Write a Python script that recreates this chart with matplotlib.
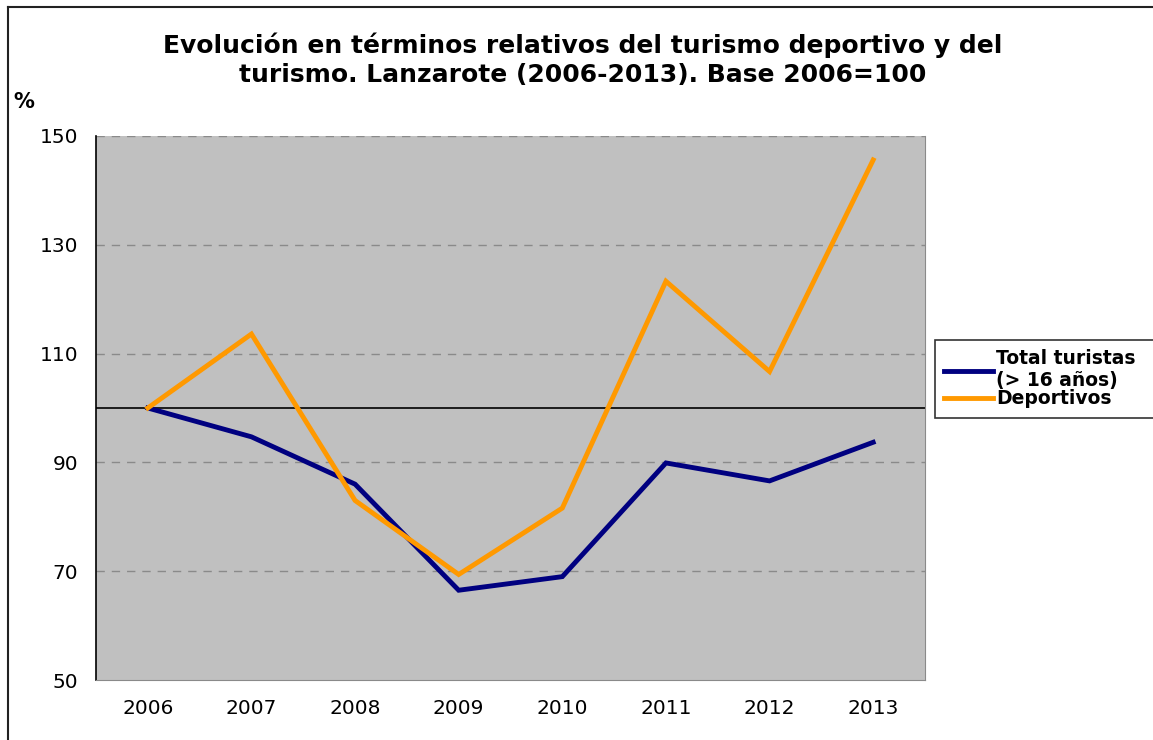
import matplotlib.pyplot as plt
from matplotlib.lines import Line2D

# Data
years = ['2006', '2007', '2008', '2009', '2010', '2011', '2012', '2013']
total_turistas = [100, 94.7, 86.0, 66.5, 69.0, 89.9, 86.6, 93.7]
deportivos = [100, 113.6, 83.0, 69.4, 81.6, 123.3, 106.7, 145.6]

fig = plt.figure(figsize=(11.53, 7.4), dpi=100)
ax = fig.add_axes([96 / 1153, 1 - 680 / 740, 829 / 1153, 544 / 740])
ax.set_facecolor('#C0C0C0')

x = range(len(years))
ax.plot(x, total_turistas, color='#000080', lw=3.5, solid_joinstyle='miter',
        label='Total turistas\n(> 16 años)', zorder=3)
ax.plot(x, deportivos, color='#FF9900', lw=3.5, solid_joinstyle='miter',
        label='Deportivos', zorder=3)

ax.set_xlim(-0.5, len(years) - 0.5)
ax.set_ylim(50, 150)
ax.set_yticks([50, 70, 90, 110, 130, 150])
ax.set_xticks(list(x))
ax.set_xticklabels(years)
ax.tick_params(axis='both', length=0, labelsize=14.5)
ax.tick_params(axis='x', pad=14)
ax.tick_params(axis='y', pad=13)

for v in [70, 90, 110, 130, 150]:
    ax.axhline(v, color='#8a8a8a', lw=1, ls=(0, (6, 5)), zorder=1)
ax.axhline(100, color='black', lw=1.2, zorder=2)

ax.spines['left'].set_color('black')
ax.spines['left'].set_linewidth(1.2)
for s in ['right', 'bottom']:
    ax.spines[s].set_color('#8a8a8a')
ax.spines['top'].set_visible(False)

fig.text(0.505, 1 - 32 / 740,
         'Evolución en términos relativos del turismo deportivo y del\n'
         'turismo. Lanzarote (2006-2013). Base 2006=100',
         ha='center', va='top', fontsize=18, fontweight='bold', linespacing=1.3)
fig.text(13 / 1153, 1 - 108 / 740, '%', fontsize=15, fontweight='bold')

# Outer border (left and top only are visible in the reference)
fig.add_artist(Line2D([8 / 1153, 8 / 1153], [0, 1 - 7 / 740], color='#222222', lw=1.5))
fig.add_artist(Line2D([8 / 1153, 1], [1 - 7 / 740, 1 - 7 / 740], color='#222222', lw=1.5))

leg = ax.legend(loc='upper left', bbox_to_anchor=(935 / 1153, 1 - 340 / 740, 260 / 1153, 0),
                bbox_transform=fig.transFigure, mode='expand', frameon=True, fancybox=False,
                prop={'weight': 'bold', 'size': 13.5}, labelspacing=-0.05,
                handlelength=2.6, handletextpad=0.15, borderpad=0.5,
                borderaxespad=0)
leg.get_frame().set_edgecolor('black')
leg.get_frame().set_linewidth(1.2)

fig.savefig('out.png', dpi=100)
